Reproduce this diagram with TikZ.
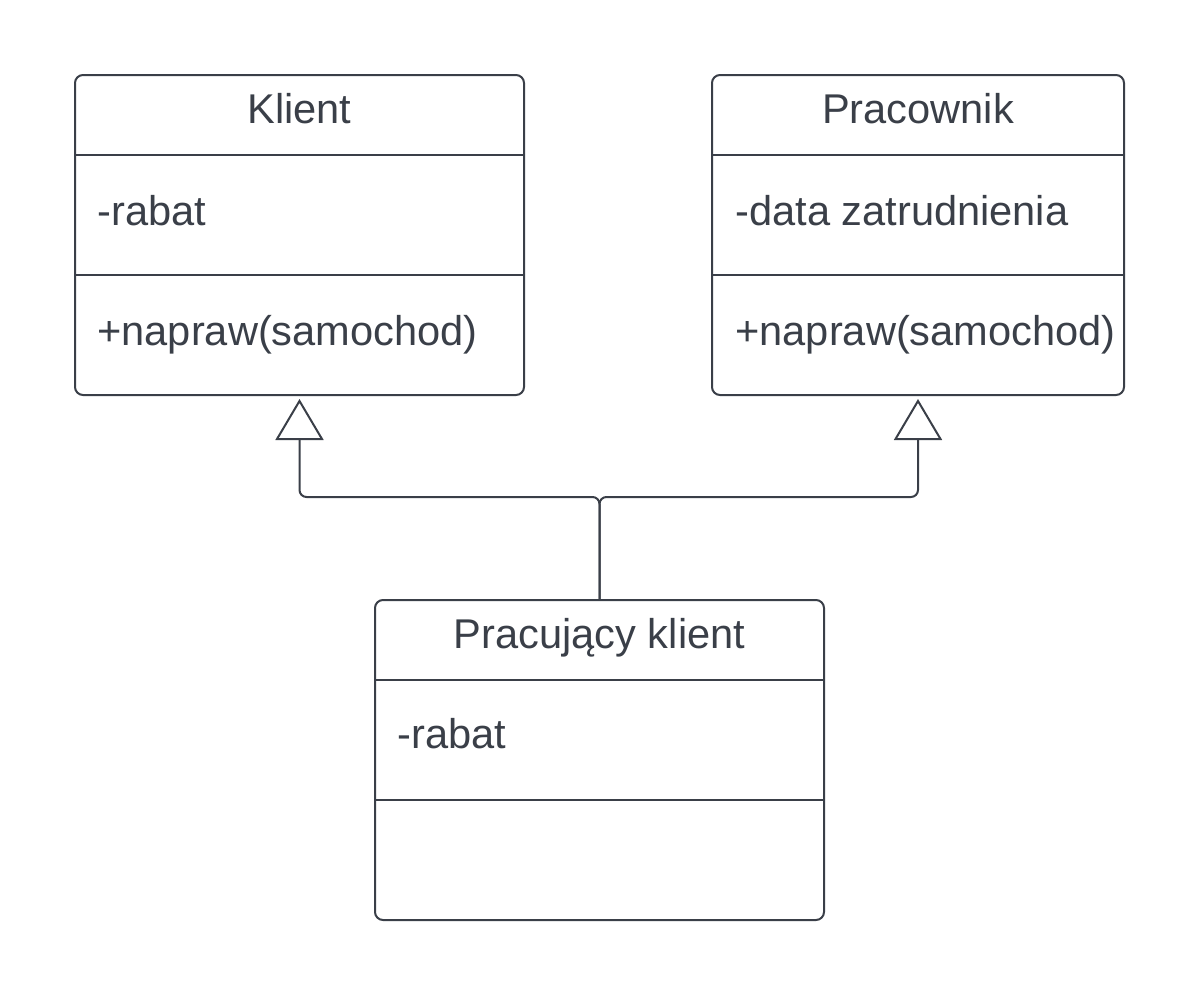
\documentclass[tikz,border=0pt]{standalone}
\usepackage{fontspec}
\setmainfont{Liberation Sans}
\usetikzlibrary{arrows.meta}
\definecolor{umlgray}{RGB}{58,63,72}

\tikzstyle{classbox} = [draw=umlgray, line width=1pt, rounded corners=4pt, minimum width=224.5pt, minimum height=160pt, inner sep=0pt]
\tikzstyle{title} = [anchor=base, text=umlgray, font=\fontsize{20.8pt}{24pt}\selectfont, inner sep=0pt]
\tikzstyle{member} = [anchor=base west, text=umlgray, font=\fontsize{20.8pt}{24pt}\selectfont, inner sep=0pt]
\tikzstyle{divider} = [draw=umlgray, line width=1pt]
\tikzstyle{inherit} = [draw=umlgray, line width=1pt, rounded corners=3.5pt, -{Triangle[open, length=20.5pt, width=24pt, fill=white]}, shorten >=1.5pt]

\begin{document}
\begin{tikzpicture}[x=0.5pt,y=-0.5pt]
      \useasboundingbox (0,0) rectangle (1200,996);
      % Klient
      \node[classbox] (klient) at (299.5,235) {};
      \node[title] (klient-t) at (299.5,123) {Klient};
      \node[member] (klient-a) at (97,225) {-rabat};
      \node[member] (klient-o) at (97,345) {+napraw(samochod)};
      \draw[divider] (75,155) -- (524,155);
      \draw[divider] (75,275) -- (524,275);
      % Pracownik
      \node[classbox, minimum width=206pt] (prac) at (918,235) {};
      \node[title] (prac-t) at (918,123) {Pracownik};
      \node[member] (prac-a) at (735,225) {-data zatrudnienia};
      \node[member] (prac-o) at (735,345) {+napraw(samochod)};
      \draw[divider] (712,155) -- (1124,155);
      \draw[divider] (712,275) -- (1124,275);
      % Pracujacy klient
      \node[classbox] (pk) at (599.5,760) {};
      \node[title] (pk-t) at (599.5,648) {Pracujący klient};
      \node[member] (pk-a) at (397,748) {-rabat};
      \draw[divider] (375,680) -- (824,680);
      \draw[divider] (375,800) -- (824,800);
      % dziedziczenie
      \coordinate (join) at (599.5,497);
      \draw[inherit] (pk.north) -- (join) -| (klient.south);
      \draw[inherit] (pk.north) -- (join) -| (prac.south);
    \end{tikzpicture}
\end{document}
